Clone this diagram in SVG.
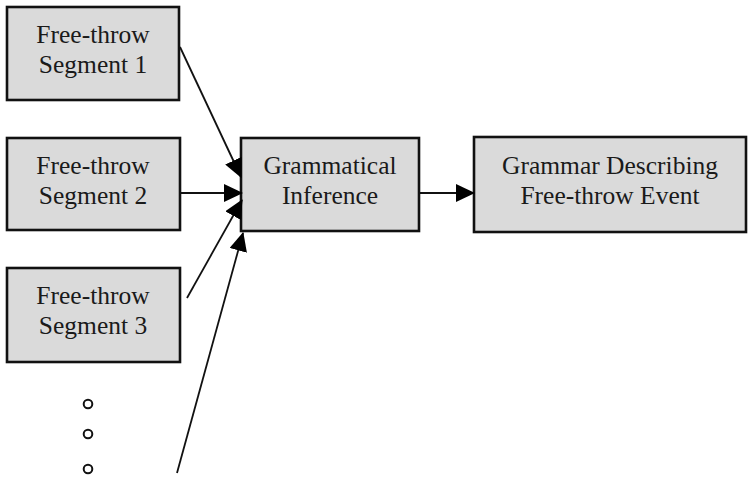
<svg xmlns="http://www.w3.org/2000/svg" width="748" height="479" viewBox="0 0 748 479">
  <style>
    .box { fill: #dadada; stroke: #111; stroke-width: 2.6; }
    .lbl { font-family: "Liberation Serif", "Times New Roman", serif; font-size: 25.5px; fill: #1a1a1a; text-anchor: middle; }
    .edge { stroke: #111; stroke-width: 1.8; fill: none; marker-end: url(#head); }
    .dot { fill: #fff; stroke: #111; stroke-width: 2; }
  </style>
  <defs>
    <marker id="head" markerUnits="userSpaceOnUse" markerWidth="19" markerHeight="18" refX="18" refY="9" orient="auto">
      <path d="M0,0 L19,9 L0,18 Z" fill="#000"/>
    </marker>
  </defs>
  <rect width="748" height="479" fill="#fff"/>

  <g id="seg1">
    <rect class="box" x="7" y="7" width="172" height="93"/>
    <text class="lbl" x="93" y="43">Free-throw</text>
    <text class="lbl" x="93" y="73">Segment 1</text>
  </g>
  <g id="seg2">
    <rect class="box" x="7" y="138" width="173" height="92"/>
    <text class="lbl" x="93" y="174">Free-throw</text>
    <text class="lbl" x="93" y="204">Segment 2</text>
  </g>
  <g id="seg3">
    <rect class="box" x="7" y="268" width="173" height="94"/>
    <text class="lbl" x="93" y="304">Free-throw</text>
    <text class="lbl" x="93" y="334">Segment 3</text>
  </g>
  <g id="more">
    <circle class="dot" cx="88" cy="404" r="4.3"/>
    <circle class="dot" cx="88" cy="434" r="4.3"/>
    <circle class="dot" cx="88" cy="469" r="4.3"/>
  </g>
  <g id="inference">
    <rect class="box" x="241" y="138" width="178" height="93"/>
    <text class="lbl" x="330" y="174">Grammatical</text>
    <text class="lbl" x="330" y="204">Inference</text>
  </g>
  <g id="grammar">
    <rect class="box" x="474" y="137" width="272" height="95"/>
    <text class="lbl" x="610" y="174">Grammar Describing</text>
    <text class="lbl" x="610" y="204">Free-throw Event</text>
  </g>

  <g id="connectors">
    <line class="edge" x1="180" y1="47" x2="241" y2="177"/>
    <line class="edge" x1="180" y1="193" x2="242" y2="193"/>
    <line class="edge" x1="187" y1="298" x2="242" y2="200"/>
    <line class="edge" x1="177" y1="473" x2="243" y2="233"/>
    <line class="edge" x1="419" y1="193" x2="474" y2="193"/>
  </g>
</svg>
